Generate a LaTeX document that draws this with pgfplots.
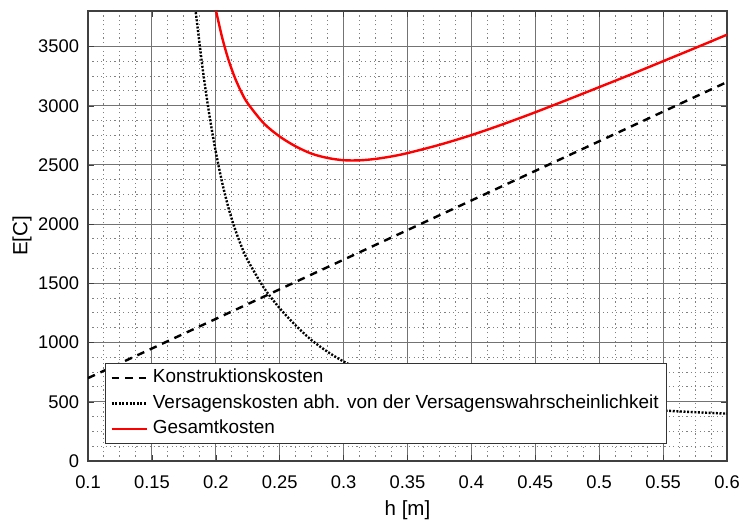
\documentclass[border=0pt]{standalone}
\usepackage{pgfplots}
\pgfplotsset{compat=1.18}
\usepackage{fontspec}
\setmainfont{Liberation Sans}

\definecolor{mred}{RGB}{255,0,0}

\begin{document}
\begin{tikzpicture}
\begin{axis}[
  at={(0bp,0bp)}, anchor=south west,
  scale only axis,
  width=319.5bp, height=225bp,
  xmin=0.1, xmax=0.6, ymin=0, ymax=3800,
  xtick={0.1,0.15,0.2,0.25,0.3,0.35,0.4,0.45,0.5,0.55,0.6},
  ytick={0,500,1000,1500,2000,2500,3000,3500},
  minor x tick num=3, minor y tick num=3,
  grid=both,
  major grid style={solid, black!55, line width=0.5bp},
  minor grid style={black!50, line width=0.5bp, dash pattern=on 0.6bp off 1.6bp},
  axis line style={black!75, line width=0.6bp},
  tick align=inside, major tick length=3bp, minor tick length=0bp,
  tick style={black!75},
  /pgf/number format/assume math mode=true,
  /pgf/number format/1000 sep={},
  xticklabel style={font=\fontsize{9.2}{10}\selectfont, yshift=-4bp,
    /pgf/number format/fixed, /pgf/number format/precision=2},
  yticklabel style={font=\fontsize{9.2}{10}\selectfont, xshift=-1bp},
  xlabel={h [m]},
  ylabel={E[C]},
  xlabel style={font=\fontsize{10.3}{11}\selectfont, at={(axis description cs:0.5,-0.109)}, anchor=center},
  ylabel style={font=\fontsize{10.3}{11}\selectfont, at={(axis description cs:-0.103,0.5)}, anchor=center},
  legend cell align=left,
  legend style={at={(axis description cs:0.0266,0.0378)}, anchor=south west,
    font=\fontsize{9.5}{10.5}\selectfont, draw=black!80, line width=0.5bp,
    fill=white, inner xsep=2.5bp, inner ysep=1.55bp, row sep=1.35bp, column sep=1bp,
    nodes={inner xsep=1.5bp, inner ysep=1bp, text height=7.2bp, text depth=2.2bp}},
  legend image code/.code={\draw[#1] (0bp,0bp) -- (17.5bp,0bp);},
]

% Konstruktionskosten
\addplot[black, line width=1.2bp, dash pattern=on 3.8bp off 3bp] coordinates {
  (0.1,700) (0.2,1200) (0.3,1700) (0.4,2200) (0.5,2700) (0.6,3200)
};
\addlegendentry{Konstruktionskosten}

% Versagenskosten
\addplot[black, line width=1.2bp, dash pattern=on 1bp off 0.8bp, smooth] coordinates {
  (0.184,3820) (0.185,3730) (0.19,3290) (0.195,2920) (0.2,2610)
  (0.205,2350) (0.21,2135) (0.215,1960) (0.22,1815) (0.225,1695)
  (0.2375,1465) (0.25,1290) (0.2625,1145) (0.275,1020) (0.2875,922)
  (0.3,840) (0.3125,777) (0.325,726) (0.3375,685) (0.35,650)
  (0.375,595) (0.4,552) (0.425,520) (0.45,495) (0.475,475)
  (0.5,457) (0.525,440) (0.55,426) (0.575,412) (0.6,400)
};
\addlegendentry{Versagenskosten abh. von der Versagenswahrscheinlichkeit}

% Gesamtkosten
\addplot[mred, line width=1.2bp, smooth] coordinates {
  (0.2,3810) (0.205,3575) (0.21,3385) (0.215,3235) (0.22,3115) (0.225,3020)
  (0.2375,2852) (0.25,2740) (0.2625,2657) (0.275,2595) (0.2875,2559)
  (0.3,2540) (0.3125,2539) (0.325,2551) (0.3375,2572) (0.35,2600)
  (0.375,2670) (0.4,2752) (0.425,2845) (0.45,2945) (0.475,3050)
  (0.5,3157) (0.525,3265) (0.55,3376) (0.575,3487) (0.6,3600)
};
\addlegendentry{Gesamtkosten}

\end{axis}
\pgfresetboundingbox
\path (-44bp,-30bp) rectangle (328bp,230.5bp);
\end{tikzpicture}
\end{document}
